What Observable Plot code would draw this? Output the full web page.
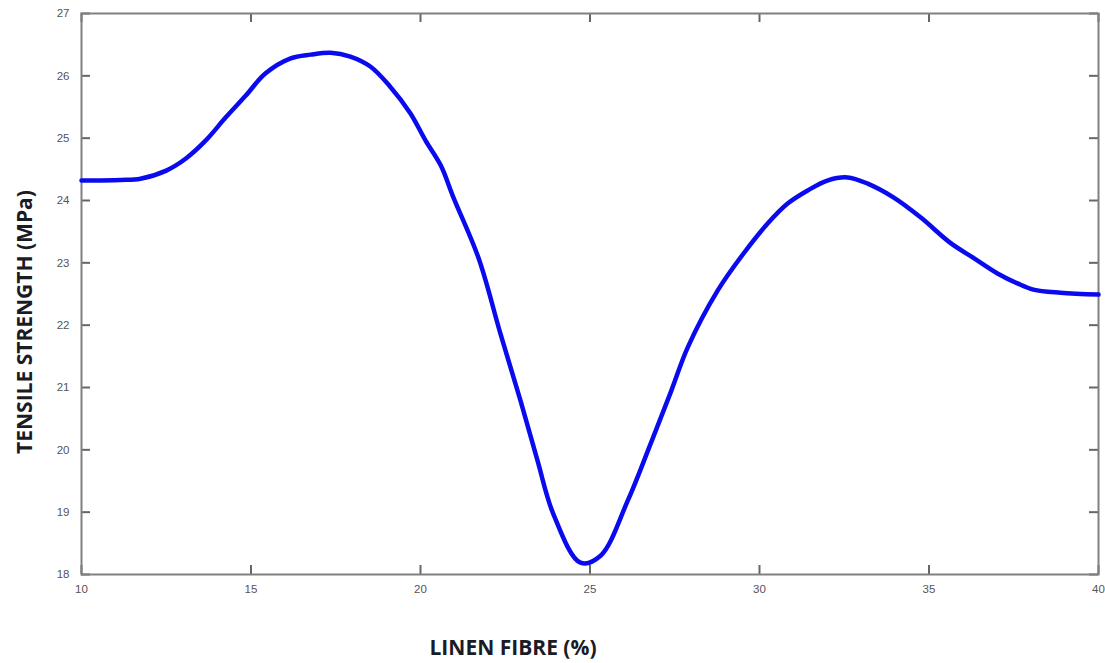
<!DOCTYPE html>
<html>
<head>
<meta charset="utf-8">
<script src="https://cdn.jsdelivr.net/npm/d3@7"></script>
<script src="https://cdn.jsdelivr.net/npm/@observablehq/plot@0.6"></script>
<style>
  html, body { margin: 0; padding: 0; background: #fff; }
  #chart svg { display: block; }
</style>
</head>
<body>
<div id="chart"></div>
<script>
// Linen fibre content (%)
const fibre = [10, 11.15, 11.74, 12.5, 13.07, 13.66, 14.25, 14.84, 15.43, 16.17, 16.76, 17.35, 17.93, 18.52, 19.1, 19.7, 20.15, 20.6, 20.97, 21.71, 22.36, 22.95, 23.45, 23.92, 24.72, 25.31, 26.11, 26.79, 27.4, 27.88, 28.76, 29.53, 30.24, 30.83, 31.42, 32.0, 32.6, 33.19, 33.95, 34.75, 35.63, 36.31, 37.02, 37.61, 38.08, 38.88, 40];
// Tensile strength (MPa)
const strength = [24.32, 24.33, 24.35, 24.48, 24.67, 24.96, 25.33, 25.68, 26.04, 26.28, 26.34, 26.37, 26.31, 26.15, 25.83, 25.4, 24.96, 24.56, 24.05, 23.08, 21.86, 20.79, 19.83, 18.97, 18.19, 18.30, 19.18, 20.10, 20.95, 21.64, 22.55, 23.15, 23.63, 23.95, 24.16, 24.32, 24.37, 24.27, 24.05, 23.73, 23.32, 23.08, 22.83, 22.67, 22.57, 22.52, 22.49];

const xTicks = [10, 15, 20, 25, 30, 35, 40];
const yTicks = [18, 19, 20, 21, 22, 23, 24, 25, 26, 27];
const xTitle = "LINEN FIBRE (%)";
const yTitle = "TENSILE STRENGTH (MPa)";

const data = fibre.map((f, i) => ({fibre: f, strength: strength[i]}));

const W = 1105, H = 663;
const mL = 81, mR = 7, mT = 13, mB = 89;
const frameW = W - mL - mR, frameH = H - mT - mB;
const T = 9; // inward tick length
const tickColor = "#666";

const chart = Plot.plot({
  width: W,
  height: H,
  marginLeft: mL,
  marginRight: mR,
  marginTop: mT,
  marginBottom: mB,
  style: {fontFamily: "Liberation Sans, Arial, sans-serif", background: "#fff"},
  x: {domain: [10, 40]},
  y: {domain: [18, 27]},
  marks: [
    // inward ticks on all four sides
    Plot.tickX(xTicks, {x: d => d, insetTop: frameH - T, stroke: tickColor, strokeWidth: 2}),
    Plot.tickX(xTicks, {x: d => d, insetBottom: frameH - T, stroke: tickColor, strokeWidth: 2}),
    Plot.tickY(yTicks, {y: d => d, insetRight: frameW - T, stroke: tickColor, strokeWidth: 2}),
    Plot.tickY(yTicks, {y: d => d, insetLeft: frameW - T, stroke: tickColor, strokeWidth: 2}),
    Plot.frame({stroke: "#808080", strokeWidth: 2}),
    // tick labels
    Plot.axisX(xTicks, {anchor: "bottom", tickSize: 0, tickPadding: 10, label: null, tickFormat: "d", fill: "#555", fontSize: 11.5}),
    Plot.axisY(yTicks, {anchor: "left", tickSize: 0, tickPadding: 12, label: null, tickFormat: "d", fill: "#555", fontSize: 11.5}),
    // the curve
    Plot.line(data, {x: "fibre", y: "strength", stroke: "#0a0aee", strokeWidth: 4.5, curve: "catmull-rom", strokeLinejoin: "round"}),
    // axis titles
    Plot.text([xTitle], {frameAnchor: "bottom", text: d => d, textAnchor: "middle", dx: -77, dy: 80, fontSize: 21, fontWeight: "bold", fill: "#1b1b25", fontFamily: "Open Sans, sans-serif"}),
    Plot.text([yTitle], {frameAnchor: "left", text: d => d, textAnchor: "middle", dx: -56, dy: 28, rotate: -90, fontSize: 21, fontWeight: "bold", fill: "#1b1b25", fontFamily: "Open Sans, sans-serif"})
  ]
});

document.getElementById("chart").appendChild(chart);
</script>
</body>
</html>
